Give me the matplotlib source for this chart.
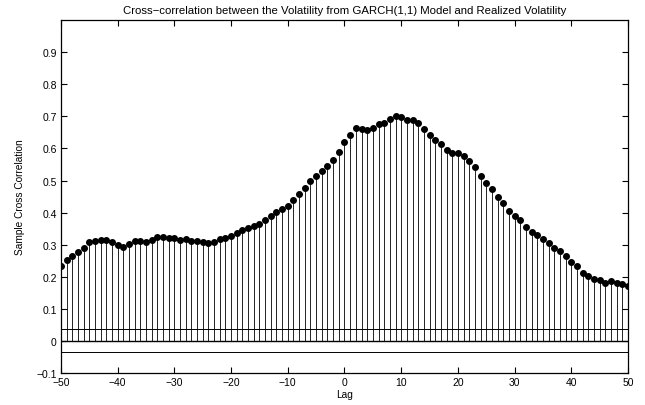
import numpy as np
import matplotlib.pyplot as plt

plt.rcParams['font.family'] = ['Liberation Sans', 'DejaVu Sans']

# lags -50..50 and the sample cross correlation
lags = np.arange(-50, 51)
xcf = [0.233, 0.252, 0.264, 0.278, 0.290, 0.310, 0.312, 0.316, 0.314, 0.308,
       0.300, 0.292, 0.303, 0.311, 0.311, 0.309, 0.315, 0.323, 0.324, 0.320,
       0.322, 0.316, 0.318, 0.312, 0.313, 0.310, 0.305, 0.308, 0.317, 0.321,
       0.328, 0.337, 0.345, 0.353, 0.357, 0.365, 0.376, 0.391, 0.403, 0.412,
       0.422, 0.440, 0.457, 0.476, 0.498, 0.513, 0.530, 0.545, 0.565, 0.590,
       0.620, 0.641, 0.663, 0.661, 0.659, 0.665, 0.676, 0.680, 0.693, 0.700,
       0.697, 0.690, 0.690, 0.680, 0.661, 0.643, 0.626, 0.613, 0.594, 0.587,
       0.586, 0.577, 0.561, 0.541, 0.514, 0.493, 0.473, 0.449, 0.431, 0.405,
       0.391, 0.376, 0.354, 0.341, 0.330, 0.319, 0.305, 0.290, 0.281, 0.266,
       0.247, 0.234, 0.212, 0.204, 0.194, 0.191, 0.181, 0.187, 0.180, 0.176,
       0.171]
bound = 0.036  # approx 95% confidence bounds

fig = plt.figure(figsize=(6.45, 4.06), dpi=100)
ax = fig.add_axes([0.0946, 0.0788, 0.879, 0.869])

ax.vlines(lags, 0, xcf, color='black', linewidth=0.6)
ax.plot(lags, xcf, 'o', color='black', markersize=4.0)
ax.axhline(0, color='black', linewidth=1.0)
ax.axhline(bound, color='black', linewidth=0.7)
ax.axhline(-bound, color='black', linewidth=0.7)

ax.set_xlim(-50, 50)
ax.set_ylim(-0.1, 1.0)
ax.set_xticks(np.arange(-50, 51, 10))
yt = np.round(np.arange(-0.1, 0.91, 0.1), 1)
ax.set_yticks(yt)
ax.set_yticklabels(['0' if v == 0 else ('%g' % v).replace('-', '\u2212') for v in yt])
ax.set_xticklabels([('%d' % v).replace('-', '\u2212') for v in range(-50, 51, 10)])
ax.tick_params(direction='in', length=4, width=0.8, top=True, right=True,
               labelsize=7.5, pad=3)
for s in ax.spines.values():
    s.set_linewidth(0.9)

ax.set_xlabel('Lag', fontsize=7.3, labelpad=1)
ax.set_ylabel('Sample Cross Correlation', fontsize=7.3, labelpad=8)
ax.set_title('Cross\u2212correlation between the Volatility from GARCH(1,1) Model and Realized Volatility',
             fontsize=8.2, pad=5)

fig.savefig('out.png', dpi=100)
